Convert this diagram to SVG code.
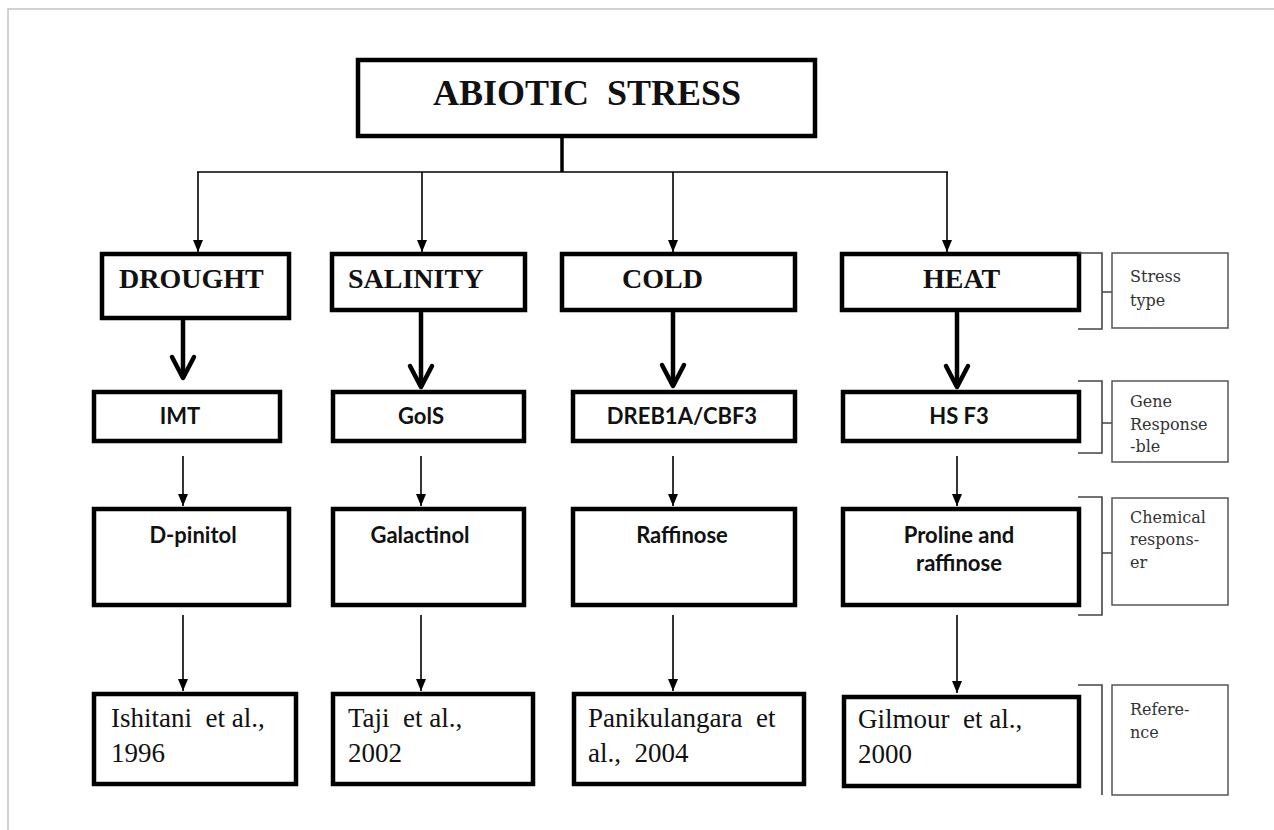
<svg xmlns="http://www.w3.org/2000/svg" width="1274" height="830" viewBox="0 0 1274 830">
<style>
.box{fill:#fff;stroke:#000;stroke-width:4.5}
.lab{fill:#fff;stroke:#555;stroke-width:1.5}
.thin{stroke:#000;stroke-width:1.6;fill:none}
.thick{stroke:#000;stroke-width:4.5;fill:none}
.brk{stroke:#444;stroke-width:1.6;fill:none}
.st{font-family:"Liberation Serif",serif;font-weight:bold;font-size:28px;fill:#111}
.gn{font-family:Lato,"Noto Sans",sans-serif;font-weight:bold;font-size:22px;fill:#111}
.rf{font-family:"Liberation Serif",serif;font-size:27px;fill:#111}
.lb{font-family:"DejaVu Serif",serif;font-size:16px;fill:#333}
</style>
<defs>
<marker id="ah" markerUnits="userSpaceOnUse" viewBox="-12 -6 13 12" refX="0" refY="0" markerWidth="13" markerHeight="12" orient="auto">
<path d="M-12,-5 L0,0 L-12,5 z" fill="#000"/>
</marker>
<marker id="chev" markerUnits="userSpaceOnUse" viewBox="-26 -15 30 30" refX="0" refY="0" markerWidth="30" markerHeight="30" orient="auto" overflow="visible">
<path d="M-21,-11 L0,0 L-21,11" fill="none" stroke="#000" stroke-width="4.5" stroke-linejoin="round" stroke-linecap="round"/>
</marker>
</defs>
<rect width="1274" height="830" fill="#fff"/>
<path d="M8,830 V9 H1274" fill="none" stroke="#c4c4c4" stroke-width="1.5"/>

<g id="connectors">
<line x1="562" y1="138" x2="562" y2="172" stroke="#000" stroke-width="3.5"/>
<line x1="197" y1="172" x2="948" y2="172" class="thin"/>
<line x1="198" y1="172" x2="198" y2="252" class="thin" marker-end="url(#ah)"/>
<line x1="422" y1="172" x2="422" y2="252" class="thin" marker-end="url(#ah)"/>
<line x1="673" y1="172" x2="673" y2="252" class="thin" marker-end="url(#ah)"/>
<line x1="947" y1="172" x2="947" y2="252" class="thin" marker-end="url(#ah)"/>

<line x1="183" y1="320" x2="183" y2="378" class="thick" marker-end="url(#chev)"/>
<line x1="421" y1="312" x2="421" y2="387" class="thick" marker-end="url(#chev)"/>
<line x1="673" y1="312" x2="673" y2="386" class="thick" marker-end="url(#chev)"/>
<line x1="957" y1="312" x2="957" y2="387" class="thick" marker-end="url(#chev)"/>

<line x1="183" y1="456" x2="183" y2="506" class="thin" marker-end="url(#ah)"/>
<line x1="421" y1="456" x2="421" y2="506" class="thin" marker-end="url(#ah)"/>
<line x1="673" y1="456" x2="673" y2="506" class="thin" marker-end="url(#ah)"/>
<line x1="957" y1="456" x2="957" y2="506" class="thin" marker-end="url(#ah)"/>

<line x1="183" y1="615" x2="183" y2="691" class="thin" marker-end="url(#ah)"/>
<line x1="421" y1="615" x2="421" y2="691" class="thin" marker-end="url(#ah)"/>
<line x1="673" y1="615" x2="673" y2="691" class="thin" marker-end="url(#ah)"/>
<line x1="957" y1="615" x2="957" y2="693" class="thin" marker-end="url(#ah)"/>
</g>

<g id="abiotic-stress">
<rect x="358" y="60" width="457" height="76" class="box"/>
<text x="587" y="105" text-anchor="middle" xml:space="preserve" style="font-family:'Liberation Serif',serif;font-weight:bold;font-size:36px;fill:#111">ABIOTIC  STRESS</text>
</g>

<g id="drought"><rect x="102" y="254" width="187" height="64" class="box"/><text x="119" y="288" class="st">DROUGHT</text></g>
<g id="salinity"><rect x="332" y="254" width="193" height="56" class="box"/><text x="348" y="288" class="st">SALINITY</text></g>
<g id="cold"><rect x="562" y="254" width="233" height="56" class="box"/><text x="622" y="288" class="st">COLD</text></g>
<g id="heat"><rect x="842" y="254" width="237" height="56" class="box"/><text x="923" y="288" class="st">HEAT</text></g>

<g id="imt"><rect x="94" y="392" width="186" height="49" class="box"/><text x="180" y="424" text-anchor="middle" class="gn">IMT</text></g>
<g id="gols"><rect x="333" y="392" width="191" height="49" class="box"/><text x="421" y="424" text-anchor="middle" class="gn">GolS</text></g>
<g id="dreb1a"><rect x="573" y="392" width="222" height="49" class="box"/><text x="682" y="424" text-anchor="middle" class="gn">DREB1A/CBF3</text></g>
<g id="hsf3"><rect x="843" y="392" width="236" height="49" class="box"/><text x="959" y="424" text-anchor="middle" class="gn">HS F3</text></g>

<g id="d-pinitol"><rect x="94" y="509" width="195" height="96" class="box"/><text x="193" y="543" text-anchor="middle" class="gn">D-pinitol</text></g>
<g id="galactinol"><rect x="333" y="509" width="191" height="96" class="box"/><text x="420" y="543" text-anchor="middle" class="gn">Galactinol</text></g>
<g id="raffinose"><rect x="573" y="509" width="222" height="96" class="box"/><text x="682" y="543" text-anchor="middle" class="gn">Raffinose</text></g>
<g id="proline"><rect x="843" y="509" width="236" height="96" class="box"/><text x="959" y="543" text-anchor="middle" class="gn">Proline and</text><text x="959" y="571" text-anchor="middle" class="gn">raffinose</text></g>

<g id="ref-ishitani"><rect x="94" y="694" width="202" height="90" class="box"/><text x="111" y="727" class="rf" xml:space="preserve">Ishitani  et al.,</text><text x="111" y="762" class="rf">1996</text></g>
<g id="ref-taji"><rect x="333" y="694" width="200" height="90" class="box"/><text x="348" y="727" class="rf" xml:space="preserve">Taji  et al.,</text><text x="348" y="762" class="rf">2002</text></g>
<g id="ref-panikulangara"><rect x="574" y="694" width="230" height="90" class="box"/><text x="588" y="727" class="rf" xml:space="preserve">Panikulangara  et</text><text x="588" y="762" class="rf" xml:space="preserve">al.,  2004</text></g>
<g id="ref-gilmour"><rect x="844" y="697" width="235" height="89" class="box"/><text x="858" y="728" class="rf" xml:space="preserve">Gilmour  et al.,</text><text x="858" y="763" class="rf">2000</text></g>

<g id="legend-stress-type">
<path d="M1078,253 H1102 V329 H1078 M1102,292 H1112" class="brk"/>
<rect x="1112" y="253" width="116" height="75" class="lab"/>
<text x="1130" y="282" class="lb">Stress</text><text x="1130" y="306" class="lb">type</text>
</g>
<g id="legend-gene">
<path d="M1078,381 H1102 V453 H1078 M1102,423 H1112" class="brk"/>
<rect x="1112" y="381" width="116" height="81" class="lab"/>
<text x="1130" y="407" class="lb">Gene</text><text x="1130" y="430" class="lb">Response</text><text x="1130" y="452" class="lb">-ble</text>
</g>
<g id="legend-chemical">
<path d="M1078,497 H1102 V615 H1078 M1102,553 H1112" class="brk"/>
<rect x="1112" y="498" width="116" height="107" class="lab"/>
<text x="1130" y="523" class="lb">Chemical</text><text x="1130" y="545" class="lb">respons-</text><text x="1130" y="568" class="lb">er</text>
</g>
<g id="legend-reference">
<path d="M1078,685 H1102 V795" class="brk"/>
<rect x="1112" y="685" width="116" height="110" class="lab"/>
<text x="1130" y="715" class="lb">Refere-</text><text x="1130" y="738" class="lb">nce</text>
</g>
</svg>
